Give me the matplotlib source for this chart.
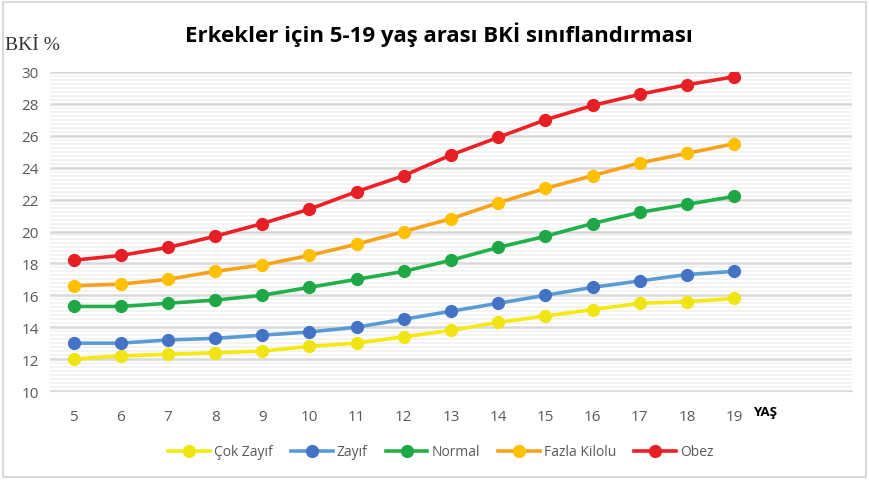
import numpy as np
import matplotlib
matplotlib.use('Agg')
import matplotlib.pyplot as plt
from matplotlib.patches import Rectangle
from matplotlib.ticker import MultipleLocator


# data
ages = [5, 6, 7, 8, 9, 10, 11, 12, 13, 14, 15, 16, 17, 18, 19]
cok_zayif = [12.0, 12.2, 12.3, 12.4, 12.5, 12.8, 13.0, 13.4, 13.8, 14.3, 14.7, 15.1, 15.5, 15.6, 15.8]
zayif = [13.0, 13.0, 13.2, 13.3, 13.5, 13.7, 14.0, 14.5, 15.0, 15.5, 16.0, 16.5, 16.9, 17.3, 17.5]
normal = [15.3, 15.3, 15.5, 15.7, 16.0, 16.5, 17.0, 17.5, 18.2, 19.0, 19.7, 20.5, 21.2, 21.7, 22.2]
fazla_kilolu = [16.6, 16.7, 17.0, 17.5, 17.9, 18.5, 19.2, 20.0, 20.8, 21.8, 22.7, 23.5, 24.3, 24.9, 25.5]
obez = [18.2, 18.5, 19.0, 19.7, 20.5, 21.4, 22.5, 23.5, 24.8, 25.9, 27.0, 27.9, 28.6, 29.2, 29.7]

series = [
    ('Çok Zayıf', cok_zayif, '#F5E90E', '#F0E512'),
    ('Zayıf', zayif, '#5B9BD5', '#4472C4'),
    ('Normal', normal, '#22B04B', '#1EA845'),
    ('Fazla Kilolu', fazla_kilolu, '#F7A21B', '#FFC000'),
    ('Obez', obez, '#EE2024', '#E81E25'),
]

plt.rcParams['font.family'] = ['Open Sans', 'DejaVu Sans']

fig = plt.figure(figsize=(8.69, 4.81), dpi=100)
ax = fig.add_axes([50 / 869, 1 - 392 / 481, 802 / 869, 319 / 481])

for name, vals, lc, mc in series:
    ax.plot(ages, vals, color=lc, linewidth=2.6, marker='o', markersize=8.5,
            markerfacecolor=mc, markeredgecolor=mc, label=name, zorder=3)

ax.set_xlim(4.5, 21.5)
ax.set_ylim(10, 30)
ax.set_xticks(ages)
ax.yaxis.set_major_locator(MultipleLocator(2))
ax.yaxis.set_minor_locator(MultipleLocator(0.25))
ax.grid(which='major', axis='y', color='#D9D9D9', linewidth=1.8)
ax.grid(which='minor', axis='y', color='#F2F2F2', linewidth=1.3)
ax.set_axisbelow(True)
for s in ['top', 'right', 'left']:
    ax.spines[s].set_visible(False)
ax.spines['bottom'].set_color('#D9D9D9')
ax.tick_params(which='both', length=0)
ax.tick_params(axis='x', labelsize=11, labelcolor='#595959', pad=13)
ax.tick_params(axis='y', labelsize=11, labelcolor='#595959', pad=8)

fig.text(0.505, 0.927, 'Erkekler için 5-19 yaş arası BKİ sınıflandırması',
         ha='center', va='center', fontsize=16, fontweight='bold', color='black')
fig.text(5 / 869, 1 - 46 / 481, 'BKİ %', ha='left', va='center',
         fontsize=14, family='Liberation Serif', color='#333333')
fig.text(765 / 869, 1 - 413 / 481, 'YAŞ', ha='center', va='center',
         fontsize=9.5, fontweight='bold', color='black')

fig.legend(loc='center', bbox_to_anchor=(441 / 869, 1 - 453 / 481), ncol=5,
           frameon=False, fontsize=10, labelcolor='#595959', handlelength=3.0,
           columnspacing=1.3, handletextpad=0.3)

fig.patches.append(Rectangle((3 / 869, 3 / 481), 863 / 869, 475 / 481,
                             transform=fig.transFigure, fill=False,
                             edgecolor='#D9D9D9', linewidth=1.5))

fig.savefig('out.png', dpi=100)
